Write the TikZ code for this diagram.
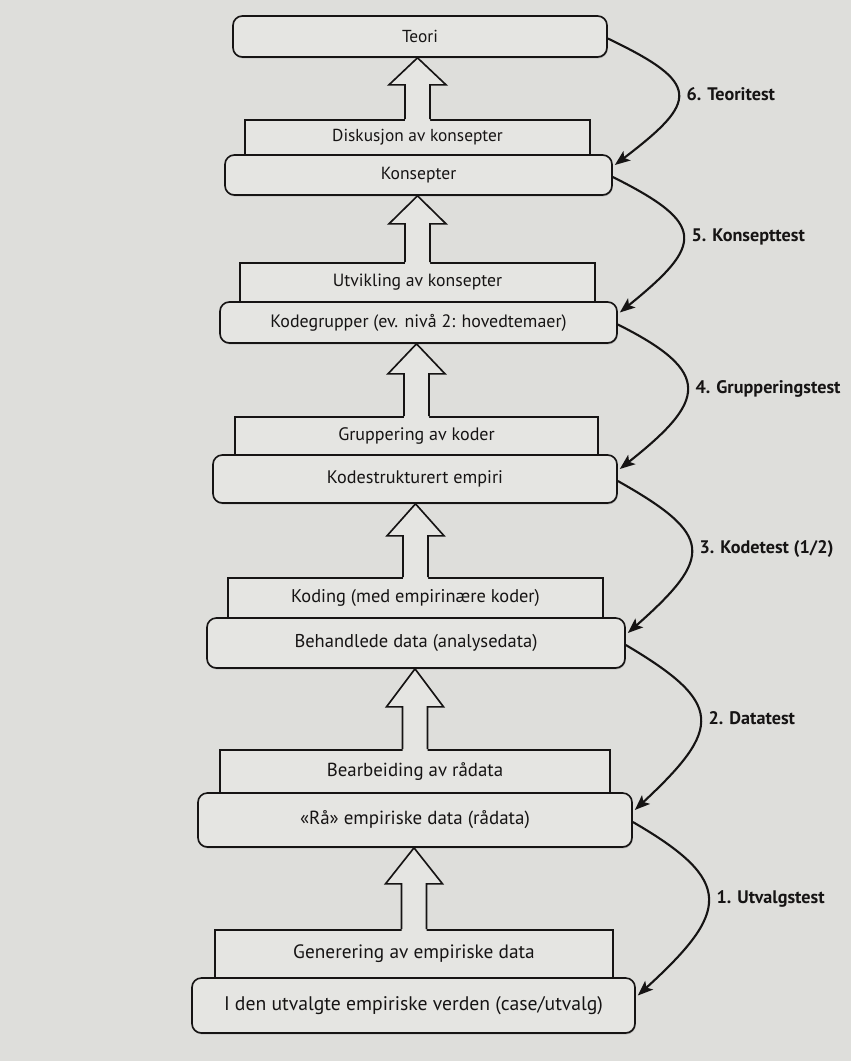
\documentclass[tikz,border=0pt]{standalone}
\usepackage{fontspec}
\setmainfont{PT Sans}
\usepackage{tikz}
\usetikzlibrary{arrows.meta,calc,positioning,shadows}

\definecolor{paper}{RGB}{222,222,219}
\definecolor{boxfill}{RGB}{229,229,226}
\definecolor{ink}{RGB}{22,20,20}

\begin{document}
\begin{tikzpicture}[x=0.03cm,y=-0.03cm,>={Stealth[length=13pt,width=10pt,inset=3pt]}]
	\tikzstyle{level} = [draw=ink, fill=boxfill, rounded corners=8pt, line width=1.4pt, inner sep=0pt, text=ink, drop shadow={shadow xshift=0.6pt, shadow yshift=-1.2pt, opacity=0.45}]
	\tikzstyle{stage} = [draw=ink, fill=boxfill, line width=1.4pt, inner sep=0pt, text=ink]
	\tikzstyle{hollow} = [draw=ink, line width=1.4pt, line join=miter]
	\tikzstyle{test} = [->, draw=ink, line width=1.8pt]
	\tikzstyle{testlabel} = [right, xshift=3pt, text=ink, font=\fontsize{15.5}{18}\selectfont\bfseries]

	\fill[paper] (0,0) rectangle (851,1061);

	\foreach \n/\x/\y/\w/\h/\s/\t in {p5/417.5/137.5/345/35/14.8/{Diskusjon av konsepter},
		p4/417.5/282.5/355/39/15.1/{Utvikling av konsepter},
		p3/416.5/436/363/38/15.4/{Gruppering av koder},
		p2/415.5/598/375/40/15.7/{Koding (med empirinære koder)},
		p1/415/771.5/390/43/16.1/{Bearbeiding av rådata},
		p0/414/954/398/48/16.5/{Generering av empiriske data}}
		{ \node [stage, font=\fontsize{\s}{18}\selectfont, minimum width=\w*0.03cm, minimum height=\h*0.03cm] (\n) at (\x,\y) {\t};}

	\foreach \n/\x/\y/\w/\h/\s/\t in {b6/420/36.5/374/41/14.8/{Teori},
		b5/418.5/175/387/40/15/{Konsepter},
		b4/418.5/322.5/397/41/15.3/{Kodegrupper (ev. nivå 2: hovedtemaer)},
		b3/415/479/404/48/15.5/{Kodestrukturert empiri},
		b2/416/643/418/50/15.8/{Behandlede data (analysedata)},
		b1/415/820/434/54/16.2/{«Rå» empiriske data (rådata)},
		b0/413.5/1005.5/443/55/16.8/{I den utvalgte empiriske verden (case/utvalg)}}
		{ \node [level, font=\fontsize{\s}{18}\selectfont, minimum width=\w*0.03cm, minimum height=\h*0.03cm] (\n) at (\x,\y) {\t};}

	\foreach \pl/\bx/\hl in {p5/b6/27, p4/b5/28, p3/b4/30, p2/b3/32, p1/b2/38, p0/b1/36}
	{
		\coordinate (tip) at (\pl.north |- \bx.south);
		\fill[boxfill] ($(\pl.north)+(-12.5,1.8)$) -- ($(tip)+(-12.5,\hl)$) -- ($(tip)+(-28.5,\hl)$) -- (tip)
			-- ($(tip)+(28.5,\hl)$) -- ($(tip)+(12.5,\hl)$) -- ($(\pl.north)+(12.5,1.8)$) -- cycle;
		\draw[hollow] ($(\pl.north)+(-12.5,0)$) -- ($(tip)+(-12.5,\hl)$) -- ($(tip)+(-28.5,\hl)$) -- (tip)
			-- ($(tip)+(28.5,\hl)$) -- ($(tip)+(12.5,\hl)$) -- ($(\pl.north)+(12.5,0)$);
	}

	\foreach \from/\to/\ca/\cb/\t in {b6/b5/{94,45}/{84,-64}/{6. Teoritest},
		b5/b4/{94,47}/{84,-68}/{5. Konsepttest},
		b4/b3/{96,48}/{86,-68}/{4. Grupperingstest},
		b3/b2/{96,54}/{86,-76}/{3. Kodetest (1/2)},
		b2/b1/{98,58}/{88,-82}/{2. Datatest},
		b1/b0/{102,59}/{92,-84}/{1. Utvalgstest}}
		\draw[test] ($(\from.east)+(0,2)$) .. controls +(\ca) and +(\cb) .. ($(\to.east)+(2,-10)$) node[testlabel, pos=0.5] {\t};

\end{tikzpicture}
\end{document}
